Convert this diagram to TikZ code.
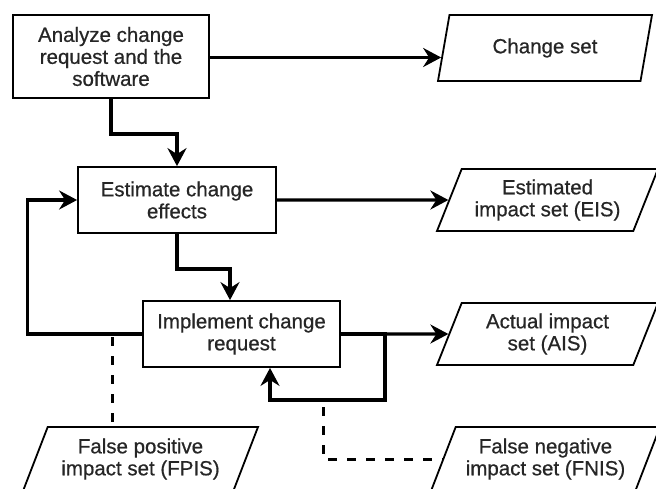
\documentclass[tikz,border=0pt]{standalone}
\usepackage{fontspec}
\setmainfont{Liberation Sans}
\newfontface\labelface{Liberation Sans}[FakeBold=0.6]
\usetikzlibrary{shapes.geometric,arrows.meta,calc}

\begin{document}
\begin{tikzpicture}[x=1pt,y=-1pt,
  every node/.style={font=\labelface\fontsize{20.5}{22}\selectfont, text=black!85},
  procbox/.style={draw, line width=1.8pt, rectangle, align=center, inner sep=0pt},
  dataset/.style={draw, line width=1.8pt, trapezium, trapezium left angle=59,
    trapezium right angle=121, trapezium stretches body, align=center,
    inner xsep=0pt, inner ysep=0pt},
  flow/.style={line width=3.2pt, -{Stealth[length=18pt,width=19pt,inset=6pt]}},
  hint/.style={line width=3pt, dash pattern=on 9pt off 10pt},
]
\useasboundingbox (0,0) rectangle (656,488);

% process steps
\node[procbox, minimum width=196pt, minimum height=83pt] (A) at (111,56.5)
  {Analyze change\\request and the\\software};
\node[procbox, minimum width=198pt, minimum height=66pt] (B) at (177,200)
  {Estimate change\\effects};
\node[procbox, minimum width=197pt, minimum height=66pt] (C) at (241.5,334)
  {Implement change\\request};

% data sets
\node[dataset, minimum width=214pt, minimum height=66pt] (CS) at (545,48) {Change set};
\node[dataset, minimum width=221pt, minimum height=62pt] (EIS) at (547.5,200)
  {Estimated\\impact set (EIS)};
\node[dataset, minimum width=221pt, minimum height=62pt] (AIS) at (547.5,334)
  {Actual impact\\set (AIS)};
\node[dataset, minimum width=235pt, minimum height=64pt] (FPIS) at (140.5,459)
  {False positive\\impact set (FPIS)};
\node[dataset, minimum width=229pt, minimum height=64pt] (FNIS) at (545.5,459)
  {False negative\\impact set (FNIS)};

% flow connectors
\coordinate (csIn) at ($(CS.bottom left corner)!0.36!(CS.top left corner)$);
\draw[flow] (A.east |- csIn) -- (csIn);
\draw[flow] (A.south) -- ++(0,35) -| (B.north);
\draw[flow] (B.east) -- (EIS.west);
\draw[flow] (B.south) -- ++(0,35) -| ([xshift=-11.5pt]C.north);
\draw[flow] (C.west) -- ++(-115,0) |- (B.west);
\draw[flow] (C.east) -- (AIS.west);
\coordinate (loop) at (385,400);
\draw[flow] (C.east) -| (loop) -| ([xshift=28.5pt]C.south);

% dashed relations to the error sets
\coordinate (fpFrom) at (112,337);
\draw[hint] (fpFrom) -- (fpFrom |- FPIS.north);
\coordinate (fnFrom) at (323,407);
\draw[hint] (fnFrom) |- (FNIS.west);
\end{tikzpicture}
\end{document}
